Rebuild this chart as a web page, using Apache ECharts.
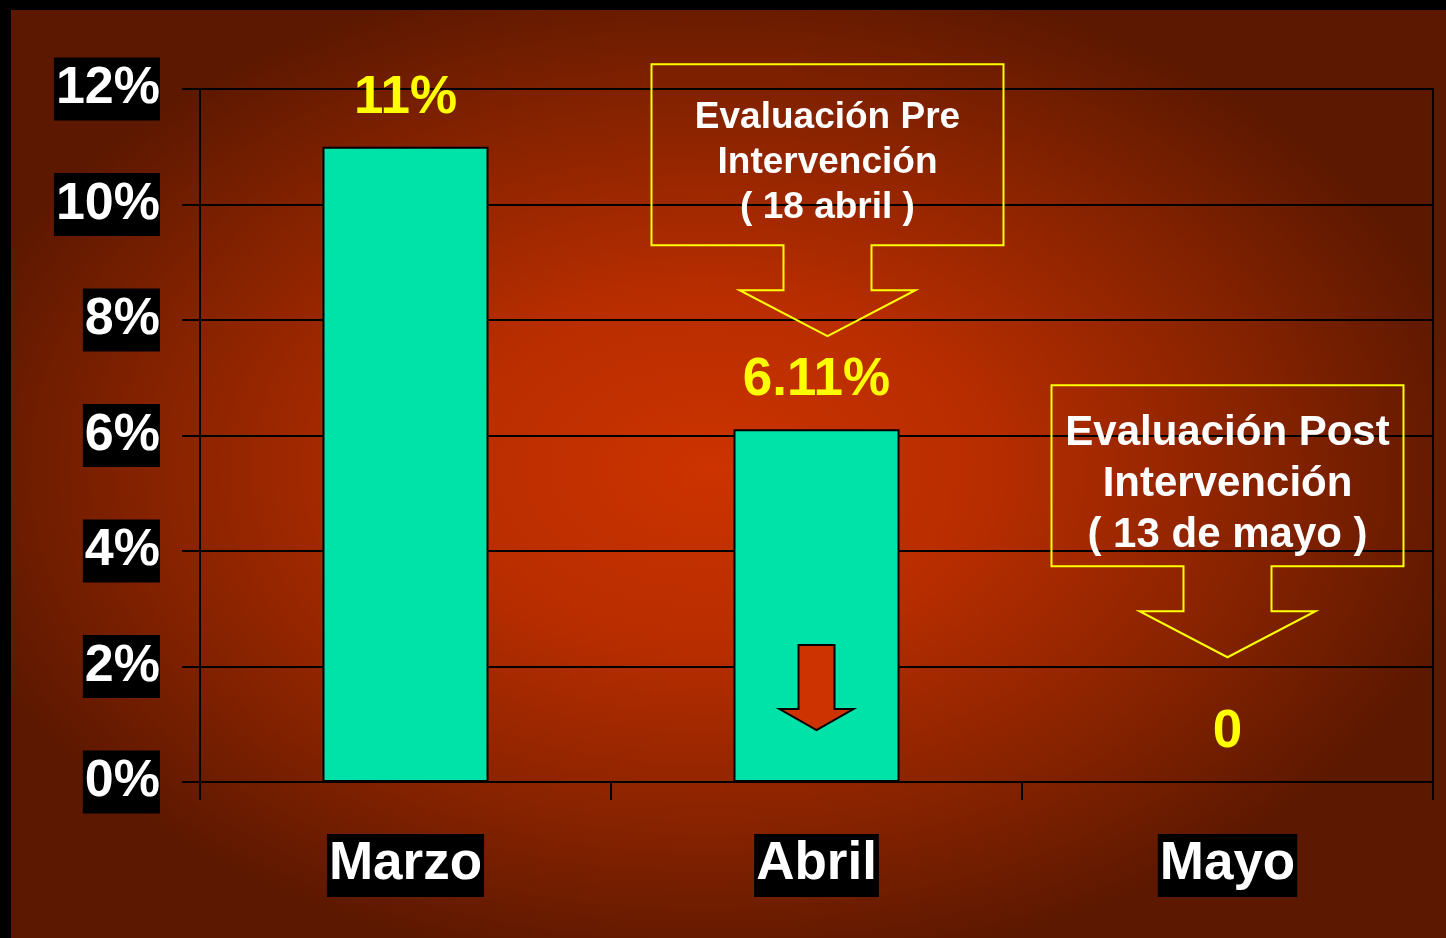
<!DOCTYPE html>
<html>
<head>
<meta charset="utf-8">
<script src="https://cdn.jsdelivr.net/npm/echarts@6/dist/echarts.min.js"></script>
<style>
  html, body { margin: 0; padding: 0; background: #000; }
  #chart {
    width: 1446px;
    height: 938px;
    background:
      linear-gradient(#000, #000) top left / 100% 10px no-repeat,
      linear-gradient(#000, #000) top left / 11px 100% no-repeat,
      radial-gradient(ellipse 54% 54% at 49% 50%, #cc3300 0%, #b82d00 35%, #882300 70%, #5c1800 100%);
  }
</style>
</head>
<body>
<div id="chart"></div>
<script>
// datos del gráfico
var categories = ['Marzo', 'Abril', 'Mayo'];
var values = [11, 6.11, 0];
var yTicks = [0, 2, 4, 6, 8, 10, 12];

// cuadros de llamada (punta de la flecha en valor del eje y)
var callouts = [
  { cat: 'Abril', tip: 7.72, dx: 11, size: 37, lh: 45, lines: ['Evaluación Pre', 'Intervención', '( 18 abril )'] },
  { cat: 'Mayo', tip: 2.16, dx: 0, size: 42, lh: 51, lines: ['Evaluación Post', 'Intervención', '( 13 de mayo )'] }
];

(function () {
  var myChart = echarts.init(document.getElementById('chart'));
  var font = '"Liberation Sans", Arial, sans-serif';

  var option = {
    backgroundColor: 'transparent',
    animation: false,
    grid: { left: 200, right: 13, top: 89, bottom: 156 },
    xAxis: {
      type: 'category',
      data: categories,
      axisLine: { show: true, lineStyle: { color: '#000', width: 2 } },
      axisTick: { show: true, length: 18, lineStyle: { color: '#000', width: 2 } },
      axisLabel: {
        color: '#fff', fontSize: 53, fontWeight: 'bold', fontFamily: font,
        backgroundColor: '#000', padding: [4, 2, 6, 2], margin: 52
      }
    },
    yAxis: [{
      type: 'value',
      min: yTicks[0],
      max: yTicks[yTicks.length - 1],
      interval: 2,
      axisLine: { show: true, lineStyle: { color: '#000', width: 2 } },
      axisTick: { show: true, length: 18, lineStyle: { color: '#000', width: 2 } },
      splitLine: { show: true, lineStyle: { color: '#000', width: 2 } },
      axisLabel: {
        formatter: '{value}%',
        color: '#fff', fontSize: 52, fontWeight: 'bold', fontFamily: font,
        backgroundColor: '#000', padding: [5, 0, 6, 2], margin: 40
      }
    }, {
      type: 'value',
      position: 'right',
      min: yTicks[0],
      max: yTicks[yTicks.length - 1],
      interval: 2,
      axisLine: { show: true, lineStyle: { color: '#000', width: 2 } },
      axisTick: { show: false },
      axisLabel: { show: false },
      splitLine: { show: false }
    }],
    series: [{
      type: 'bar',
      data: values,
      barWidth: 166,
      itemStyle: { color: '#00e3a8', borderColor: '#000', borderWidth: 2 },
      label: {
        show: true,
        position: 'top',
        distance: 22,
        color: '#ffff00',
        fontSize: 53,
        fontWeight: 'bold',
        fontFamily: font,
        formatter: function (p) { return p.value === 0 ? '0' : p.value + '%'; }
      }
    }]
  };

  myChart.setOption(option);

  // flechas y textos dibujados encima de la gráfica
  var elements = [];
  callouts.forEach(function (c) {
    var pt = myChart.convertToPixel({ xAxisIndex: 0, yAxisIndex: 0 }, [c.cat, c.tip]);
    var tx = pt[0] + c.dx, ty = pt[1];
    elements.push({
      type: 'polygon',
      shape: {
        points: [
          [tx - 176, ty - 272], [tx + 176, ty - 272], [tx + 176, ty - 91],
          [tx + 44, ty - 91], [tx + 44, ty - 46], [tx + 88, ty - 46], [tx, ty],
          [tx - 88, ty - 46], [tx - 44, ty - 46], [tx - 44, ty - 91], [tx - 176, ty - 91]
        ]
      },
      style: { fill: 'transparent', stroke: '#ffff00', lineWidth: 2 },
      z: 100
    });
    elements.push({
      type: 'text',
      x: tx,
      y: ty - 173,
      style: {
        text: c.lines.join('\n'),
        fill: '#fff',
        font: 'bold ' + c.size + 'px ' + font,
        lineHeight: c.lh,
        align: 'center',
        verticalAlign: 'middle'
      },
      z: 101
    });
  });

  // flecha roja dentro de la barra de abril
  var base = myChart.convertToPixel({ xAxisIndex: 0, yAxisIndex: 0 }, ['Abril', 0]);
  var ax = base[0], ay = base[1];
  elements.push({
    type: 'polygon',
    shape: {
      points: [
        [ax - 18, ay - 137], [ax + 18, ay - 137], [ax + 18, ay - 73], [ax + 37, ay - 73],
        [ax, ay - 52], [ax - 37, ay - 73], [ax - 18, ay - 73]
      ]
    },
    style: { fill: '#cc3300', stroke: '#000', lineWidth: 2 },
    z: 100
  });

  myChart.setOption({ graphic: { elements: elements } });

  window.addEventListener('resize', myChart.resize);
})();
</script>
</body>
</html>
